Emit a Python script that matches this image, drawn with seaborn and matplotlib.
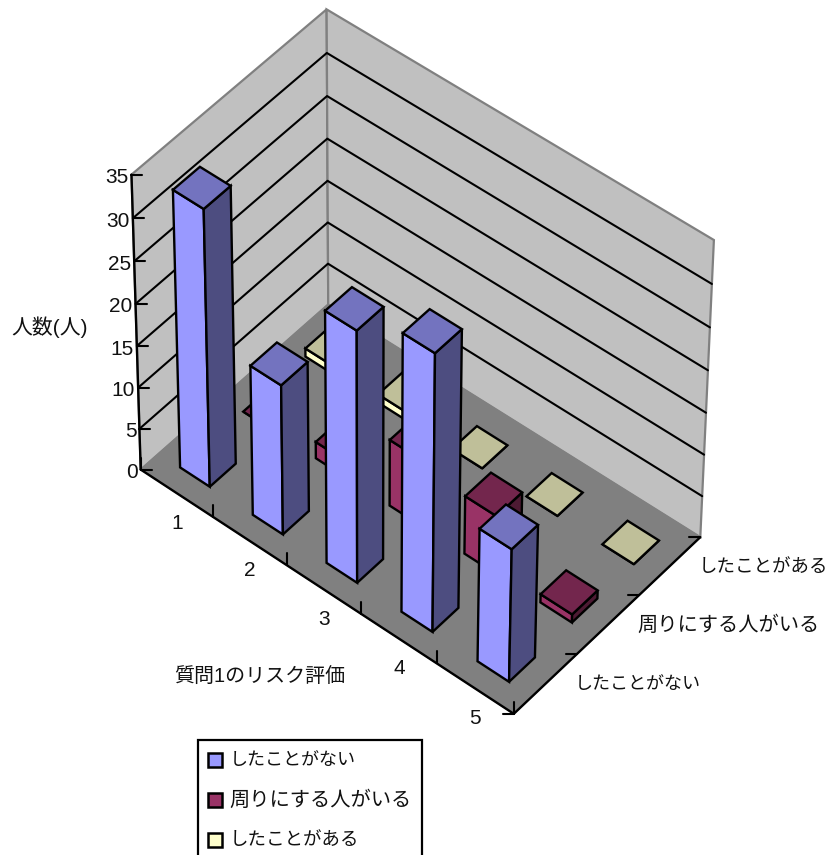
import numpy as np
import matplotlib
matplotlib.use("Agg")
import matplotlib.pyplot as plt
import seaborn as sns
from matplotlib.patches import Polygon, Rectangle

categories = ["1", "2", "3", "4", "5"]
series_names = ["したことがない", "周りにする人がいる", "したことがある"]
value_ticks = [0, 5, 10, 15, 20, 25, 30, 35]
never_done = [33, 18, 30, 33, 16]
someone_near = [0, 2, 8, 7, 1]
have_done = [1, 1, 0, 0, 0]

sns.set_theme(style="white")
plt.rcParams["font.family"] = ["Liberation Sans", "Noto Sans CJK JP", "DejaVu Sans"]

palette = sns.color_palette(["#9999FF", "#993366", "#FFFFCC"])
WALL = "#C0C0C0"
FLOOR = "#808080"
EDGE = "#808080"
TXT = "#111111"
BAR_W = 0.41
# the kanji label is wider in the original, so it gets its own size
NAME_SIZES = [13, 14.6, 13.3]

# box corners (cat, series, value) -> picture pixels, solved as one perspective matrix
n_cat, n_ser, top = len(categories), len(series_names), value_ticks[-1]
corner_3d = [(0, 0, 0), (n_cat, 0, 0), (n_cat, n_ser, 0), (0, n_ser, 0),
             (0, 0, top), (0, n_ser, top), (n_cat, n_ser, top)]
corner_px = [(140, 469), (514, 714), (700, 537), (329, 305),
             (132, 175), (326, 9), (714, 240)]
rows, rhs = [], []
for (a, b, c), (px, py) in zip(corner_3d, corner_px):
    rows.append([a, b, c, 1, 0, 0, 0, 0, -px * a, -px * b, -px * c])
    rows.append([0, 0, 0, 0, a, b, c, 1, -py * a, -py * b, -py * c])
    rhs += [px, py]
sol = np.linalg.lstsq(np.array(rows, float), np.array(rhs, float), rcond=None)[0]
P = np.append(sol, 1.0).reshape(3, 4)


def proj(a, b, c):
    x, y, w = P @ np.array([a, b, c, 1.0])
    return x / w, y / w


def shade(col, f):
    return tuple(v * f for v in col)


fig = plt.figure(figsize=(8.31, 8.55), dpi=100)
ax = fig.add_axes([0, 0, 1, 1])
ax.set_xlim(0, 831)
ax.set_ylim(855, 0)
ax.axis("off")

# walls and floor
left_wall = [proj(0, 0, 0), proj(0, 0, top), proj(0, n_ser, top), proj(0, n_ser, 0)]
back_wall = [proj(0, n_ser, 0), proj(0, n_ser, top), proj(n_cat, n_ser, top), proj(n_cat, n_ser, 0)]
floor = [proj(0, 0, 0), proj(n_cat, 0, 0), proj(n_cat, n_ser, 0), proj(0, n_ser, 0)]
ax.add_patch(Polygon(left_wall, fc=WALL, ec=EDGE, lw=1.6, zorder=1))
ax.add_patch(Polygon(back_wall, fc=WALL, ec=EDGE, lw=1.6, zorder=1))
ax.add_patch(Polygon(floor, fc=FLOOR, ec=EDGE, lw=1.0, zorder=2))

# gridlines
for v in value_ticks[1:-1]:
    line = np.array([proj(0, 0, v), proj(0, n_ser, v), proj(n_cat, n_ser, v)])
    ax.plot(line[:, 0], line[:, 1], color="black", lw=1.5, zorder=3)

# axis lines
for a, b in [((0, 0, 0), (n_cat, 0, 0)), ((n_cat, 0, 0), (n_cat, n_ser, 0)), ((0, 0, 0), (0, 0, top))]:
    line = np.array([proj(*a), proj(*b)])
    ax.plot(line[:, 0], line[:, 1], color="black", lw=1.7, zorder=3)

# ticks and tick labels
for v in value_ticks:
    x, y = proj(0, 0, v)
    ax.plot([x, x + 11], [y, y], color="black", lw=1.5, zorder=3)
    ax.text(x - 3, y + 3, str(v), ha="right", va="center", fontsize=15, color=TXT)
for i in range(n_cat + 1):
    x, y = proj(i, 0, 0)
    ax.plot([x, x], [y, y - 12], color="black", lw=1.5, zorder=3)
for i, lab in enumerate(categories):
    x, y = proj(i + 0.5, 0, 0)
    ax.text(x, y + 30, lab, ha="center", va="center", fontsize=15, color=TXT)
for j in range(n_ser + 1):
    x, y = proj(n_cat, j, 0)
    ax.plot([x - 11, x], [y, y], color="black", lw=1.5, zorder=3)
for j, lab in enumerate(series_names):
    x, y = proj(n_cat, j + 0.5, 0)
    ax.text(x + 29, y + 1, lab, ha="left", va="center", fontsize=NAME_SIZES[j], color=TXT)

# bars, back to front
values = [never_done, someone_near, have_done]
gap = (1 - BAR_W) / 2
z = 5
for i in range(n_cat):
    for j in reversed(range(n_ser)):
        h = values[j][i]
        col = palette[j]
        u0, u1 = i + gap, i + 1 - gap
        v0, v1 = j + gap - 0.01, j + 1 - gap - 0.01
        front = [proj(u0, v0, 0), proj(u1, v0, 0), proj(u1, v0, h), proj(u0, v0, h)]
        side = [proj(u1, v0, 0), proj(u1, v1, 0), proj(u1, v1, h), proj(u1, v0, h)]
        cap = [proj(u0, v0, h), proj(u1, v0, h), proj(u1, v1, h), proj(u0, v1, h)]
        ax.add_patch(Polygon(front, fc=col, ec="black", lw=1.7, zorder=z))
        ax.add_patch(Polygon(side, fc=shade(col, 0.5), ec="black", lw=1.7, zorder=z))
        ax.add_patch(Polygon(cap, fc=shade(col, 0.75), ec="black", lw=1.7, zorder=z))
        z += 1

ax.text(50, 327, "人数(人)", ha="center", va="center", fontsize=15, color=TXT)
ax.text(260, 677, "質問1のリスク評価", ha="center", va="center", fontsize=14.4, color=TXT)

# legend box runs off the bottom of the picture
ax.add_patch(Rectangle((198, 740), 224, 125, fc="white", ec="black", lw=1.6, zorder=50))
for j, (name, y) in enumerate(zip(series_names, [760, 800, 840])):
    ax.add_patch(Rectangle((208, y - 7), 14, 14, fc=palette[j], ec="black", lw=1.8, zorder=51))
    ax.text(230 - (j == 1), y, name, ha="left", va="center", fontsize=NAME_SIZES[j], color=TXT, zorder=51)

fig.savefig("out.png", dpi=100)
